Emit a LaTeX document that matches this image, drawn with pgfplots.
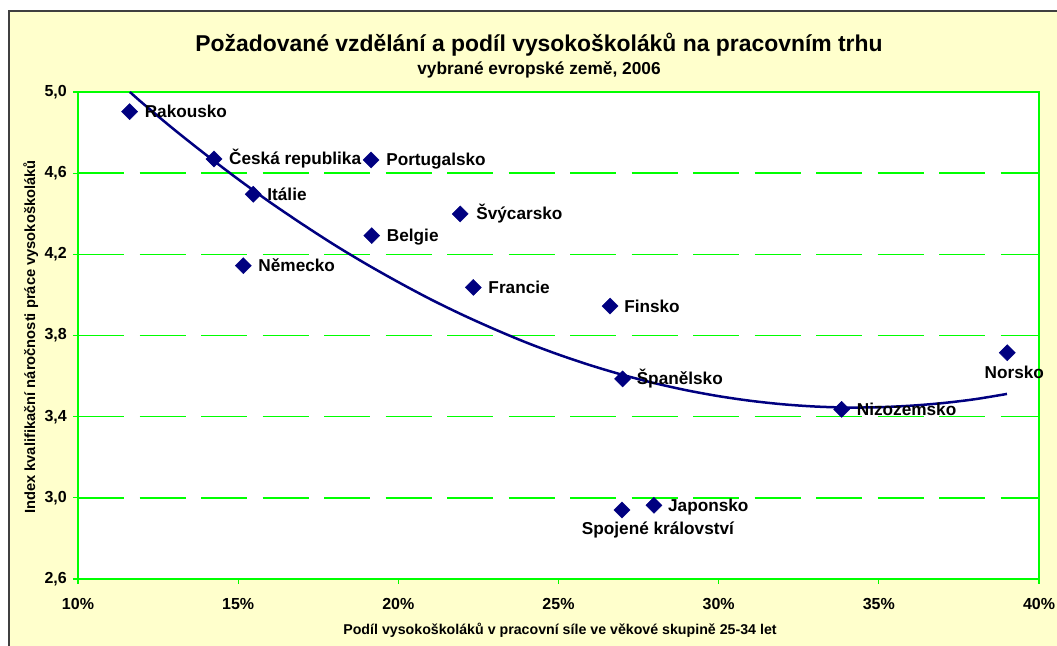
\documentclass[border=0pt]{standalone}
\usepackage{fontspec}
\setmainfont{Liberation Sans}
\usepackage{pgfplots}
\pgfplotsset{compat=1.18}
\definecolor{bgyellow}{HTML}{FFFFCC}
\definecolor{navy}{HTML}{000080}
\definecolor{grn}{HTML}{00FF00}
\newcommand{\fs}[1]{\fontsize{#1}{#1}\selectfont\bfseries}
\pgfplotstableread{
x y
11.61 4.903
14.245 4.670
19.15 4.665
15.47 4.496
21.93 4.399
19.17 4.292
15.16 4.144
22.34 4.037
26.61 3.945
27.00 3.586
33.84 3.436
39.01 3.715
27.98 2.963
26.98 2.940
}\datatable
\begin{document}
\begin{tikzpicture}[x=1bp,y=1bp]
\useasboundingbox (0,0) rectangle (1057,646);
\fill[white] (0,0) rectangle (1057,646);
\fill[bgyellow] (9,-5) rectangle (1065,635);
\draw[black!75, line width=1.5bp] (9,-5) -- (9,635) -- (1065,635);
\node[anchor=base, inner sep=0pt] at (539,594) {\fs{22.9bp}Požadované vzdělání a podíl vysokoškoláků na pracovním trhu};
\node[anchor=base, inner sep=0pt] at (539,571) {\fs{17.3bp}vybrané evropské země, 2006};
\node[anchor=base, inner sep=0pt] at (560,11) {\fs{14.2bp}Podíl vysokoškoláků v pracovní síle ve věkové skupině 25-34 let};
\node[anchor=base, inner sep=0pt, rotate=90] at (35,309) {\fs{14.7bp}Index kvalifikační náročnosti práce vysokoškoláků};
\begin{axis}[
  at={(78bp,67bp)}, anchor=south west, scale only axis,
  width=961bp, height=487bp,
  xmin=10, xmax=40, ymin=2.6, ymax=5.0,
  clip=false,
  xtick={10,15,20,25,30,35,40},
  xticklabels={10\%,15\%,20\%,25\%,30\%,35\%,40\%},
  ytick={2.6,3.0,3.4,3.8,4.2,4.6,5.0},
  /pgf/number format/fixed, /pgf/number format/fixed zerofill,
  /pgf/number format/precision=1, /pgf/number format/use comma,
  /pgf/number format/assume math mode=true,
  ticklabel style={font=\fs{16bp}},
  xticklabel style={inner sep=0pt, anchor=north, yshift=-14.5bp},
  yticklabel style={inner sep=0pt, anchor=east, xshift=-6bp},
  axis line style={grn, line width=1.2bp},
  tick style={grn, line width=1.2bp},
  tick align=outside, major tick length=5bp,
  xtick pos=bottom, ytick pos=left,
  ymajorgrids,
  every axis grid/.style={draw=grn, line width=1.5bp, dash pattern=on 46bp off 15.5bp},
  major grid style={draw=grn, line width=1.5bp, dash pattern=on 46bp off 15.5bp},
  axis background/.style={fill=white},
]
\addplot[navy, line width=2.5bp, smooth] coordinates {
(11.62,5.0) (12,4.947) (13,4.815) (14,4.690) (15,4.570) (16,4.456) (17,4.349)
(18,4.247) (19,4.152) (20,4.063) (21,3.979) (22,3.902) (23,3.831) (24,3.765)
(25,3.706) (26,3.653) (27,3.606) (28,3.565) (29,3.530) (30,3.501) (31,3.478)
(32,3.461) (33,3.450) (34,3.445) (35,3.4465) (36,3.454) (37,3.467) (38,3.486) (39,3.512)};
\addplot[only marks, mark=square*, mark size=5.7bp, mark options={rotate=45, navy, draw=navy, fill=navy}] table[x=x,y=y] {\datatable};
\tikzset{lab/.style={anchor=base west, inner sep=0pt, font=\fs{17.2bp}, xshift=15bp, yshift=-6bp}}
\node[lab] at (axis cs:11.61,4.903) {Rakousko};
\node[lab] at (axis cs:14.245,4.670) {Česká republika};
\node[lab] at (axis cs:19.15,4.665) {Portugalsko};
\node[lab, xshift=-1bp] at (axis cs:15.47,4.496) {Itálie};
\node[lab, xshift=1bp] at (axis cs:21.93,4.399) {Švýcarsko};
\node[lab] at (axis cs:19.17,4.292) {Belgie};
\node[lab] at (axis cs:15.16,4.144) {Německo};
\node[lab] at (axis cs:22.34,4.037) {Francie};
\node[lab, xshift=-1bp] at (axis cs:26.61,3.945) {Finsko};
\node[lab, xshift=-1bp] at (axis cs:27.00,3.586) {Španělsko};
\node[lab] at (axis cs:33.84,3.436) {Nizozemsko};
\node[lab, xshift=-1bp] at (axis cs:27.98,2.963) {Japonsko};
\node[anchor=base, inner sep=0pt, font=\fs{17.2bp}, xshift=7bp, yshift=-26bp] at (axis cs:39.01,3.715) {Norsko};
\node[anchor=base, inner sep=0pt, font=\fs{17.2bp}, xshift=36bp, yshift=-24bp] at (axis cs:26.98,2.940) {Spojené království};
\end{axis}
\end{tikzpicture}
\end{document}
